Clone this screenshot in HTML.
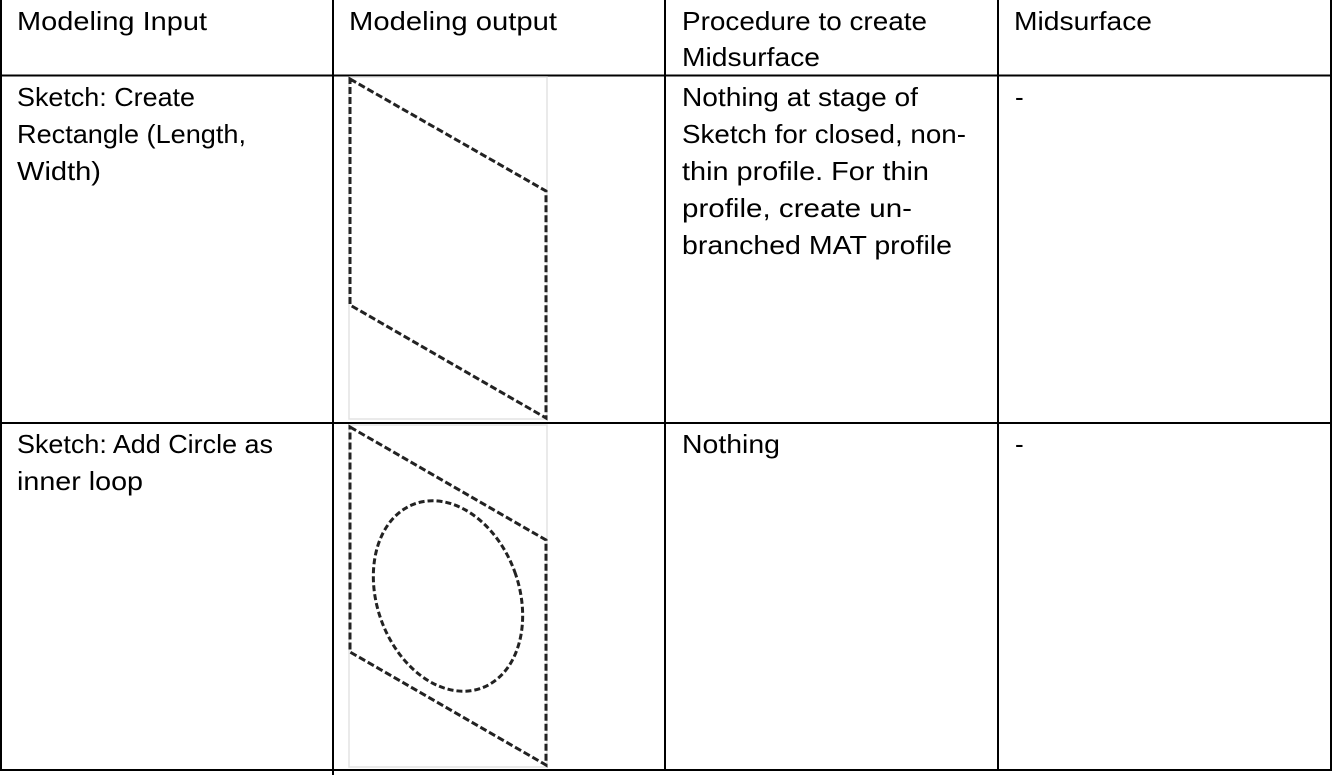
<!DOCTYPE html>
<html><head><meta charset="utf-8"><style>html,body{margin:0;padding:0;background:#fff}svg{display:block}text{font-family:"Liberation Sans",sans-serif;font-size:26px;fill:#000}</style></head>
<body>
<svg width="1336" height="780" viewBox="0 0 1336 780" xmlns="http://www.w3.org/2000/svg">
<g stroke="#000" stroke-width="2" fill="none">
<rect x="1" y="-1" width="1330" height="771"/>
<line x1="0" y1="75.5" x2="1332" y2="75.5"/>
<line x1="0" y1="423" x2="1332" y2="423"/>
<line x1="333" y1="0" x2="333" y2="775"/>
<line x1="665" y1="0" x2="665" y2="770"/>
<line x1="998" y1="0" x2="998" y2="770"/>
</g>
<g stroke="#e3e3e3" stroke-width="1.5" fill="none">
<rect x="349" y="77" width="198" height="342"/>
<rect x="349" y="425" width="198" height="342"/>
</g>
<g stroke="#222" stroke-width="3" fill="none" stroke-dasharray="7,3">
<polygon points="350,79 546,191 546,418 350,305"/>
<polygon points="350,427 546,540 546,765 350,652"/>
<ellipse cx="448" cy="596" rx="71" ry="98" transform="rotate(-20 448 596)" stroke-dasharray="6,3"/>
</g>
<g lengthAdjust="spacingAndGlyphs">
<text x="17" y="30" textLength="190" lengthAdjust="spacingAndGlyphs">Modeling Input</text>
<text x="349" y="30" textLength="208" lengthAdjust="spacingAndGlyphs">Modeling output</text>
<text x="682" y="30" textLength="245" lengthAdjust="spacingAndGlyphs">Procedure to create</text>
<text x="682" y="66" textLength="138" lengthAdjust="spacingAndGlyphs">Midsurface</text>
<text x="1014" y="30" textLength="138" lengthAdjust="spacingAndGlyphs">Midsurface</text>
<text x="17" y="106" textLength="178" lengthAdjust="spacingAndGlyphs">Sketch: Create</text>
<text x="17" y="143" textLength="229" lengthAdjust="spacingAndGlyphs">Rectangle (Length,</text>
<text x="17" y="180" textLength="84" lengthAdjust="spacingAndGlyphs">Width)</text>
<text x="682" y="106" textLength="236" lengthAdjust="spacingAndGlyphs">Nothing at stage of</text>
<text x="682" y="143" textLength="284" lengthAdjust="spacingAndGlyphs">Sketch for closed, non-</text>
<text x="682" y="180" textLength="247" lengthAdjust="spacingAndGlyphs">thin profile. For thin</text>
<text x="682" y="217" textLength="230" lengthAdjust="spacingAndGlyphs">profile, create un-</text>
<text x="682" y="254" textLength="270" lengthAdjust="spacingAndGlyphs">branched MAT profile</text>
<text x="1015" y="106">-</text>
<text x="17" y="453" textLength="256" lengthAdjust="spacingAndGlyphs">Sketch: Add Circle as</text>
<text x="17" y="490" textLength="126" lengthAdjust="spacingAndGlyphs">inner loop</text>
<text x="682" y="453" textLength="98" lengthAdjust="spacingAndGlyphs">Nothing</text>
<text x="1015" y="453">-</text>
</g>
</svg>
</body></html>
